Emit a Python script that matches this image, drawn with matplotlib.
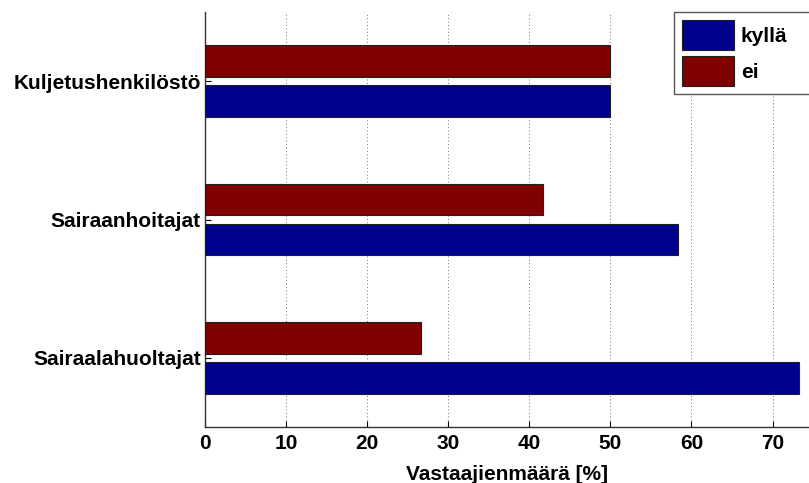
import matplotlib
matplotlib.use("Agg")
import matplotlib.pyplot as plt
import numpy as np

categories = ["Sairaalahuoltajat", "Sairaanhoitajat", "Kuljetushenkilöstö"]
kylla = [73.3, 58.3, 50.0]
ei = [26.7, 41.7, 50.0]
series_labels = ["kyllä", "ei"]
xticks = [0, 10, 20, 30, 40, 50, 60, 70]
xlabel = "Vastaajienmäärä [%]"

plt.rcParams['font.family'] = ['Liberation Sans', 'DejaVu Sans']
FS = 15

fig = plt.figure(figsize=(8.09, 4.83), dpi=100)
ax = fig.add_axes([205/809, 56/483, 1 - 205/809, 415/483])

y = np.arange(1, len(categories) + 1)
h = 0.23
off = 0.145
blue = '#00008F'
red = '#7F0000'
b1 = ax.barh(y - off, kylla, height=h, color=blue, edgecolor='#202020', linewidth=0.8, label=series_labels[0], zorder=3)
b2 = ax.barh(y + off, ei, height=h, color=red, edgecolor='#202020', linewidth=0.8, label=series_labels[1], zorder=3)

ax.set_xlim(0, 74.5)
ax.set_ylim(0.5, 3.5)
ax.set_yticks(y)
ax.set_yticklabels(categories, fontsize=FS, fontweight='bold')
ax.set_xticks(xticks)
ax.set_xticklabels([str(t) for t in xticks], fontsize=FS, fontweight='bold')
ax.tick_params(axis='x', direction='in', length=4, width=0.8, pad=5)
ax.tick_params(axis='y', direction='in', length=4, width=0.8, pad=3)
ax.set_xlabel(xlabel, fontsize=FS, fontweight='bold', labelpad=9)

ax.grid(axis='x', linestyle=(0, (1, 2.5)), color='#777777', linewidth=0.7, zorder=0)
for s in ['top', 'right']:
    ax.spines[s].set_visible(False)
for s in ['left', 'bottom']:
    ax.spines[s].set_color('#333333')
    ax.spines[s].set_linewidth(1.0)

leg = ax.legend(handles=[b1, b2], loc='upper left',
                bbox_to_anchor=(674/809, 0, 160/809, 471/483), bbox_transform=fig.transFigure,
                mode='expand',
                prop={'weight': 'bold', 'size': FS}, fancybox=False, framealpha=1,
                edgecolor='#555555', handlelength=2.5, handleheight=1.8,
                handletextpad=0.3, borderpad=0.4, labelspacing=0.3, borderaxespad=0)
leg.get_frame().set_linewidth(1.0)

fig.savefig("out.png", dpi=100)
